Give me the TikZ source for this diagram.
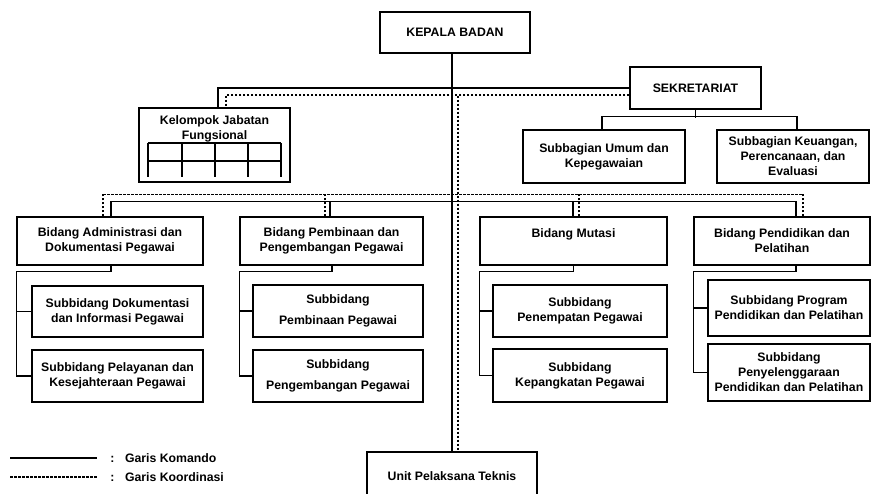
\documentclass[tikz,border=0pt]{standalone}
\usepackage{fontspec}
\setmainfont{Liberation Sans}
\usetikzlibrary{calc}
\begin{document}
\begin{tikzpicture}[x=0.75pt, y=-0.75pt,
  teks/.style={font=\bfseries\fontsize{9.2}{11.25}\selectfont, align=center},
  kotak/.style={draw, rectangle, teks, line width=0.8pt, inner sep=1pt},
  komando/.style={line width=0.85pt},
  koordinasi/.style={line width=0.85pt, dash pattern=on 2pt off 1pt}]
\useasboundingbox (0,0) rectangle (871,493);
        \node(kepala)[kotak, minimum width=112.5pt, minimum height=30.75pt] at (455,32.5){KEPALA BADAN};
        \node(sekretariat)[kotak, minimum width=98.25pt, minimum height=31.5pt] at (695.5,88){SEKRETARIAT};
        \node(kelompok)[kotak, minimum width=113.25pt, minimum height=55.5pt] at (214.5,145){};
        \node(kelompokteks)[teks, inner sep=0pt] at (214.5,129){Kelompok Jabatan\\Fungsional};
        \node(umum)[kotak, minimum width=121.5pt, minimum height=39.75pt] at (604,156.5){Subbagian Umum dan\\Kepegawaian};
        \node(keuangan)[kotak, minimum width=114pt, minimum height=39.75pt] at (793,156.5){Subbagian Keuangan,\\Perencanaan, dan\\Evaluasi};
        \node(adm)[kotak, minimum width=139.5pt, minimum height=36pt] at (110,241){Bidang Administrasi dan\\Dokumentasi Pegawai};
        \node(pemb)[kotak, minimum width=137.25pt, minimum height=36pt] at (331.5,241){Bidang Pembinaan dan\\Pengembangan Pegawai};
        \node(mutasi)[kotak, minimum width=140.25pt, minimum height=36pt] at (573.5,241){Bidang Mutasi\\\phantom{X}};
        \node(diklat)[kotak, minimum width=132pt, minimum height=36pt] at (782,241){Bidang Pendidikan dan\\Pelatihan};
        \node(adm1)[kotak, minimum width=128.25pt, minimum height=38.25pt] at (117.5,311.5){Subbidang Dokumentasi\\dan Informasi Pegawai};
        \node(adm2)[kotak, minimum width=128.25pt, minimum height=39pt] at (117.5,376){Subbidang Pelayanan dan\\Kesejahteraan Pegawai};
        \node(pemb1)[kotak, minimum width=127.5pt, minimum height=39pt] at (338,311){Subbidang\\[4pt]Pembinaan Pegawai};
        \node(pemb2)[kotak, minimum width=127.5pt, minimum height=39pt] at (338,376){Subbidang\\[4pt]Pengembangan Pegawai};
        \node(mutasi1)[kotak, minimum width=130.5pt, minimum height=39pt] at (580,311){Subbidang\\Penempatan Pegawai};
        \node(mutasi2)[kotak, minimum width=130.5pt, minimum height=39.75pt] at (580,375.5){Subbidang\\Kepangkatan Pegawai};
        \node(diklat1)[kotak, minimum width=121.5pt, minimum height=42pt] at (789,308){Subbidang Program\\Pendidikan dan Pelatihan};
        \node(diklat2)[kotak, minimum width=121.5pt, minimum height=42.75pt] at (789,372.5){Subbidang\\Penyelenggaraan\\Pendidikan dan Pelatihan};
        \node(unit)[kotak, minimum width=127.5pt, minimum height=36pt] at (452,476){Unit Pelaksana Teknis};
\foreach \x in {148,182,215,248,281} \draw[komando] (\x,143) -- (\x,177);
\draw[komando] (148,143) -- (281,143);
\draw[komando] (148,161) -- (281,161);
\draw[komando] (kepala.south -| unit.north) -- (unit.north);
\coordinate (kd) at ($(kepala.south)+(3,42)$);
\draw[koordinasi] (kd) -- (kd |- unit.north);
\draw[komando] (sekretariat.west) -| ($(kelompok.north)+(3.5,0)$);
\draw[koordinasi] ($(sekretariat.west)+(0,7)$) -| ($(kelompok.north)+(11.5,0)$);
\draw[komando] (sekretariat.south) -- ++(0,8);
\draw[komando] ($(umum.north)+(-2,0)$) -- ++(0,-13) -| ($(keuangan.north)+(4,0)$);
\draw[komando] ($(adm.north)+(1,-15)$) -- ($(diklat.north)+(14,-15)$);
\draw[koordinasi] ($(adm.north)+(-7,-22)$) -- ($(diklat.north)+(21,-22)$);
\foreach \bid/\sk/\sd in {adm/1/-7, pemb/-1.5/-6.5, mutasi/-0.5/5.5, diklat/14/21}{
  \draw[komando] ($(\bid.north)+(\sk,0)$) -- ++(0,-15);
  \draw[koordinasi] ($(\bid.north)+(\sd,0)$) -- ++(0,-22);
}
\foreach \bid/\sk in {adm/1, pemb/0.5, mutasi/0, diklat/14}{
  \draw[komando] ($(\bid.south)+(\sk,0)$) -- ++(0,6) -| (\bid.west |- \bid2.west) -- (\bid2.west);
  \draw[komando] (\bid.west |- \bid1.west) -- (\bid1.west);
}
\coordinate (lk1) at (10,458);
\coordinate (lk2) at (97,458);
\coordinate (ld1) at (10,477);
\coordinate (ld2) at (97,477);
\draw[komando] (lk1) -- (lk2);
\draw[koordinasi] (ld1) -- (ld2);
        \node(lgkomando)[teks, anchor=west, inner sep=0pt] at (110,458){:\hspace{8pt}Garis Komando};
        \node(lgkoordinasi)[teks, anchor=west, inner sep=0pt] at (110,477){:\hspace{8pt}Garis Koordinasi};
    \end{tikzpicture}
\end{document}
